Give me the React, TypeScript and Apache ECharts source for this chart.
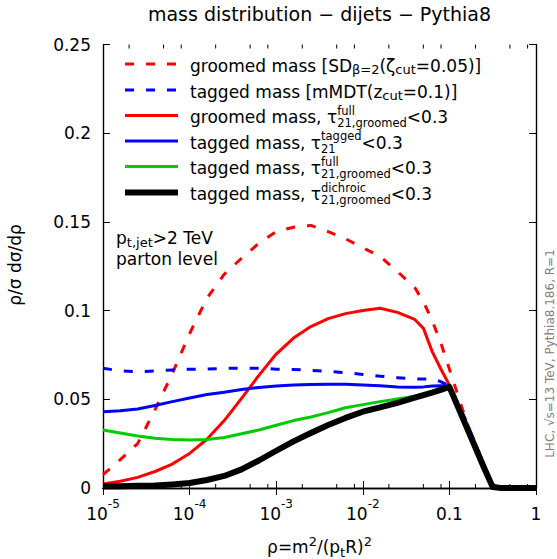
import React, { useEffect, useRef } from 'react';
import * as echarts from 'echarts';

const FONT = '"DejaVu Sans", "Liberation Sans", sans-serif';

// rho grid (log-spaced sample positions)
const rho = [
  1e-5, 1.585e-5, 2.512e-5, 3.981e-5, 6.31e-5,
  1e-4, 1.585e-4, 2.512e-4, 3.981e-4, 6.31e-4,
  1e-3, 1.585e-3, 2.512e-3, 3.981e-3, 6.31e-3,
  1e-2, 1.585e-2, 2.512e-2, 3.981e-2, 5.012e-2, 6.31e-2, 7.943e-2,
  0.1, 0.1259, 0.1585, 0.1995, 0.2512, 0.3162, 0.3981, 0.631, 1,
];

const groomedSD = [
  0.0075, 0.016, 0.025, 0.044, 0.0645,
  0.087, 0.107, 0.1205, 0.1295, 0.138,
  0.1445, 0.147, 0.148, 0.1445, 0.1405,
  0.1355, 0.1305, 0.122, 0.113, 0.105, 0.0945, 0.082,
  0.067, 0.052, 0.037, 0.025, 0.013, 0.002, 0, 0, 0,
];

const taggedMMDT = [
  0.0675, 0.066, 0.0655, 0.066, 0.0665,
  0.067, 0.067, 0.0675, 0.0675, 0.0675,
  0.067, 0.0668, 0.0663, 0.0658, 0.065,
  0.064, 0.063, 0.0622, 0.0614, 0.0615, 0.0615, 0.06,
  0.0575, 0.048, 0.037, 0.025, 0.013, 0.002, 0, 0, 0,
];

const groomedTauFull = [
  0.0023, 0.0038, 0.006, 0.0093, 0.0135,
  0.0195, 0.0275, 0.038, 0.0505, 0.0635,
  0.0755, 0.0845, 0.091, 0.0955, 0.0983,
  0.1, 0.1013, 0.099, 0.095, 0.09, 0.077, 0.0672,
  0.058, 0.046, 0.0345, 0.023, 0.0118, 0.0008, 0, 0, 0,
];

const taggedTauTagged = [
  0.043, 0.0435, 0.0445, 0.0465, 0.0487,
  0.0507, 0.0527, 0.054, 0.0555, 0.0567,
  0.0575, 0.058, 0.0583, 0.0585, 0.0585,
  0.058, 0.0577, 0.057, 0.0568, 0.057, 0.0575, 0.0577,
  0.0575, 0.0455, 0.034, 0.0228, 0.0115, 0.0005, 0, 0, 0,
];

const taggedTauFull = [
  0.0327, 0.031, 0.0293, 0.028, 0.0274,
  0.0271, 0.0273, 0.0285, 0.0306, 0.0327,
  0.0354, 0.038, 0.04, 0.0425, 0.0452,
  0.047, 0.0487, 0.0502, 0.0518, 0.0528, 0.054, 0.0553,
  0.0565, 0.0452, 0.0338, 0.0225, 0.0112, 0.0005, 0, 0, 0,
];

const taggedTauDichroic = [
  0.001, 0.001, 0.0012, 0.0014, 0.002,
  0.0028, 0.0045, 0.0068, 0.0105, 0.0155,
  0.021, 0.0263, 0.031, 0.0355, 0.0395,
  0.043, 0.0455, 0.048, 0.051, 0.0524, 0.0538, 0.0553,
  0.057, 0.0456, 0.0342, 0.0228, 0.0114, 0.0005, 0, 0, 0,
];

const yMin = 0;
const yMax = 0.25;
const xMajorTicks = [1e-5, 1e-4, 1e-3, 1e-2, 0.1, 1];
const minorMultipliers = [2, 5, 8];
const xMinorTicks: number[] = [];
for (let e = -5; e <= -1; e++) {
  for (const k of minorMultipliers) xMinorTicks.push(k * Math.pow(10, e));
}

type Seg = { n?: string; sup?: string; sub?: string };

let measureCtx: CanvasRenderingContext2D | null = null;
function tw(text: string, size: number): number {
  if (!measureCtx) measureCtx = document.createElement('canvas').getContext('2d');
  if (!measureCtx) return text.length * size * 0.6;
  measureCtx.font = `${size}px "DejaVu Sans"`;
  return measureCtx.measureText(text).width;
}

function txt(x: number, y: number, text: string, size: number, fill = '#000'): any {
  return {
    type: 'text',
    x,
    y,
    silent: true,
    style: { text, fontSize: size, fontFamily: FONT, fill, align: 'left', verticalAlign: 'middle' },
  };
}

function inline(
  x0: number,
  y: number,
  segs: Seg[],
  size: number,
  subSize: number,
  center = false,
  supDy = -6,
  subDy = 4
): any[] {
  const widths = segs.map((s) =>
    s.n != null ? tw(s.n, size) : Math.max(s.sup ? tw(s.sup, subSize) : 0, s.sub ? tw(s.sub, subSize) : 0)
  );
  const total = widths.reduce((a, b) => a + b, 0);
  let x = center ? x0 - total / 2 : x0;
  const els: any[] = [];
  segs.forEach((s, i) => {
    if (s.n != null) els.push(txt(x, y, s.n, size));
    if (s.sup) els.push(txt(x, y + supDy, s.sup, subSize));
    if (s.sub) els.push(txt(x, y + subDy, s.sub, subSize));
    x += widths[i];
  });
  return els;
}

const legendRows: { color: string; width: number; dash: number[] | null; segs: Seg[]; stacked: boolean }[] = [
  {
    color: '#ff0000', width: 3, dash: [9, 12], stacked: false,
    segs: [{ n: 'groomed mass [SD' }, { sub: 'β=2' }, { n: '(ζ' }, { sub: 'cut' }, { n: '=0.05)]' }],
  },
  {
    color: '#0000ff', width: 3, dash: [9, 12], stacked: false,
    segs: [{ n: 'tagged mass [mMDT(z' }, { sub: 'cut' }, { n: '=0.1)]' }],
  },
  {
    color: '#ff0000', width: 3, dash: null, stacked: true,
    segs: [{ n: 'groomed mass, τ' }, { sup: 'full', sub: '21,groomed' }, { n: '<0.3' }],
  },
  {
    color: '#0000ff', width: 3, dash: null, stacked: true,
    segs: [{ n: 'tagged mass, τ' }, { sup: 'tagged', sub: '21' }, { n: '<0.3' }],
  },
  {
    color: '#00cc00', width: 3, dash: null, stacked: true,
    segs: [{ n: 'tagged mass, τ' }, { sup: 'full', sub: '21,groomed' }, { n: '<0.3' }],
  },
  {
    color: '#000000', width: 6, dash: null, stacked: true,
    segs: [{ n: 'tagged mass, τ' }, { sup: 'dichroic', sub: '21,groomed' }, { n: '<0.3' }],
  },
];

function buildGraphic(): any[] {
  const els: any[] = [];
  els.push({
    type: 'text', x: 319.5, y: 14, silent: true,
    style: { text: 'mass distribution − dijets − Pythia8', fontSize: 19, fontFamily: FONT, fill: '#000', align: 'center', verticalAlign: 'middle' },
  });
  els.push({
    type: 'text', x: 15, y: 265, rotation: Math.PI / 2, silent: true,
    style: { text: 'ρ/σ dσ/dρ', fontSize: 17, fontFamily: FONT, fill: '#000', align: 'center', verticalAlign: 'middle' },
  });
  els.push({
    type: 'text', x: 550, y: 353.5, rotation: Math.PI / 2, silent: true,
    style: { text: 'LHC, √s=13 TeV, Pythia8.186, R=1', fontSize: 12, fontFamily: FONT, fill: '#808080', align: 'center', verticalAlign: 'middle' },
  });
  els.push(
    ...inline(319.5, 547, [{ n: 'ρ=m' }, { sup: '2' }, { n: '/(p' }, { sub: 't' }, { n: 'R)' }, { sup: '2' }], 17, 13, true, -6, 5)
  );
  els.push(...inline(116, 237.5, [{ n: 'p' }, { sub: 't,jet' }, { n: '>2 TeV' }], 17, 13, false, -6, 5));
  els.push(txt(116, 258.5, 'parton level', 17));
  const rowY = [64, 90, 115.5, 141, 166.5, 192.5];
  legendRows.forEach((r, i) => {
    const y = rowY[i];
    els.push({
      type: 'line', silent: true,
      shape: { x1: 125, y1: y, x2: 178, y2: y },
      style: { stroke: r.color, lineWidth: r.width, lineDash: r.dash || undefined, lineCap: 'butt' },
    });
    if (r.stacked) els.push(...inline(190, y + 1.5, r.segs, 17, 11.5, false, -6.5, 6));
    else els.push(...inline(190, y + 1.5, r.segs, 17, 13, false, -6, 4));
  });
  return els;
}

const seriesDefs = [
  { name: 'groomed mass [SD]', values: groomedSD, color: '#ff0000', width: 3, dash: [9, 12] },
  { name: 'tagged mass [mMDT]', values: taggedMMDT, color: '#0000ff', width: 3, dash: [9, 12] },
  { name: 'groomed mass, tau21 full groomed', values: groomedTauFull, color: '#ff0000', width: 3, dash: null },
  { name: 'tagged mass, tau21 tagged', values: taggedTauTagged, color: '#0000ff', width: 3, dash: null },
  { name: 'tagged mass, tau21 full groomed', values: taggedTauFull, color: '#00cc00', width: 3, dash: null },
  { name: 'tagged mass, tau21 dichroic groomed', values: taggedTauDichroic, color: '#000000', width: 6, dash: null },
];

export default function App() {
  const ref = useRef<HTMLDivElement>(null);
  useEffect(() => {
    if (!ref.current) return;
    const chart = echarts.init(ref.current, undefined, { renderer: 'svg' });
    const axisLine = { show: true, lineStyle: { color: '#000', width: 1.4 } };
    const logBase = {
      type: 'log' as const, logBase: 10, min: 1e-5, max: 1, gridIndex: 0,
      splitLine: { show: false }, minorTick: { show: false }, minorSplitLine: { show: false },
    };
    const minorTickSeries = {
      type: 'custom',
      name: 'minor ticks',
      xAxisIndex: 0,
      yAxisIndex: 0,
      silent: true,
      clip: false,
      z: 1,
      data: xMinorTicks.map((v) => [v, yMin]),
      encode: { x: 0, y: 1 },
      renderItem: (_params: any, api: any) => {
        const v = api.value(0);
        const pb = api.coord([v, yMin]);
        const pt = api.coord([v, yMax]);
        const st = { stroke: '#000', lineWidth: 1 };
        return {
          type: 'group',
          children: [
            { type: 'line', shape: { x1: pb[0], y1: pb[1], x2: pb[0], y2: pb[1] - 4 }, style: st },
            { type: 'line', shape: { x1: pt[0], y1: pt[1], x2: pt[0], y2: pt[1] + 4 }, style: st },
          ],
        };
      },
    };
    chart.setOption({
      animation: false,
      backgroundColor: '#ffffff',
      textStyle: { fontFamily: FONT },
      grid: { left: 103, right: 21, top: 44.5, bottom: 71, containLabel: false, outerBoundsMode: 'none' },
      xAxis: [
        {
          ...logBase,
          position: 'bottom',
          axisLine,
          axisTick: { show: true, inside: true, length: 7, lineStyle: { color: '#000' }, customValues: xMajorTicks },
          axisLabel: {
            show: true,
            customValues: xMajorTicks,
            margin: 10,
            color: '#000',
            formatter: (v: number) => {
              const e = Math.round(Math.log10(v));
              if (e <= -2) return `{b|10}{s|${e}}`;
              if (e === -1) return '{b|0.1}';
              return '{b|1}';
            },
            rich: {
              b: { fontSize: 17, fontFamily: FONT, color: '#000', lineHeight: 24, verticalAlign: 'bottom' },
              s: { fontSize: 12, fontFamily: FONT, color: '#000', lineHeight: 12, verticalAlign: 'top' },
            },
          },
        },
        {
          ...logBase,
          position: 'top',
          axisLine,
          axisTick: { show: true, inside: true, length: 7, lineStyle: { color: '#000' }, customValues: xMajorTicks },
          axisLabel: { show: false },
        },
      ],
      yAxis: [
        {
          type: 'value', min: yMin, max: yMax, interval: 0.05, position: 'left',
          axisLine,
          axisTick: { show: true, inside: true, length: 7, lineStyle: { color: '#000' } },
          axisLabel: { show: true, fontSize: 17, fontFamily: FONT, color: '#000', margin: 12 },
          splitLine: { show: false },
        },
        {
          type: 'value', min: yMin, max: yMax, interval: 0.05, position: 'right',
          axisLine,
          axisTick: { show: true, inside: true, length: 7, lineStyle: { color: '#000' } },
          axisLabel: { show: false },
          splitLine: { show: false },
        },
      ],
      series: [
        minorTickSeries,
        ...seriesDefs.map((s, i) => ({
          type: 'line',
          name: s.name,
          xAxisIndex: 0,
          yAxisIndex: 0,
          data: rho.map((r, j) => [r, s.values[j]]),
          showSymbol: false,
          symbol: 'none',
          clip: false,
          silent: true,
          z: 2 + i,
          lineStyle: { color: s.color, width: s.width, type: s.dash ? s.dash : 'solid', cap: 'butt', join: 'round' },
        })),
      ],
      graphic: buildGraphic(),
    });
    return () => chart.dispose();
  }, []);
  return <div ref={ref} style={{ position: 'fixed', left: 0, top: 0, width: 557, height: 559, background: '#fff' }} />;
}
